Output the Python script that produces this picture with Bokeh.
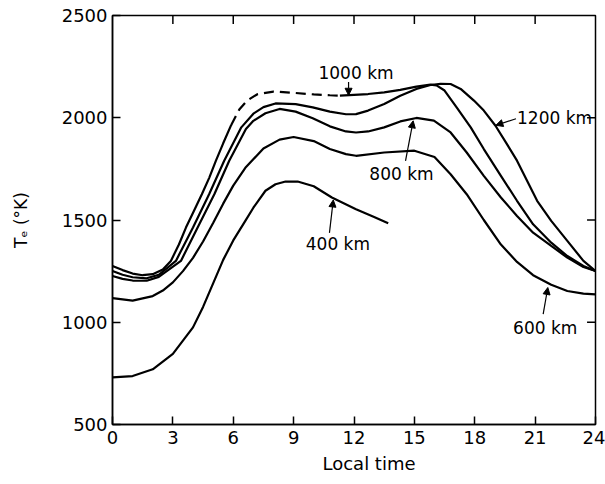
from bokeh.plotting import figure
from bokeh.models import Range1d, FixedTicker, Arrow, NormalHead, Label, Title, ColumnDataSource
from bokeh.embed import file_html
from bokeh.resources import INLINE

# ---------------- data ----------------
x_ticks = [0, 3, 6, 9, 12, 15, 18, 21, 24]
y_ticks = [500, 1000, 1500, 2000, 2500]

km400_hours = [0, 1, 2, 3, 4, 4.5, 5, 5.5, 6, 6.6, 7, 7.6, 8.1, 8.6, 9.2, 10, 10.9, 12.1, 13, 13.7]
km400_temp = [730, 737, 770, 845, 975, 1075, 1190, 1305, 1400, 1496, 1560, 1643, 1675, 1688, 1688, 1665, 1610, 1553, 1515, 1484]

km600_hours = [0, 1, 2, 2.5, 3, 3.5, 4, 4.5, 5, 5.5, 6, 6.6, 7.5, 8.3, 9, 10, 10.8, 11.6, 12.1, 13.5, 15, 16,
               16.8, 17.6, 18.45, 19.3, 20.1, 20.9, 21.8, 22.6, 23.4, 24]
km600_temp = [1118, 1106, 1128, 1155, 1195, 1250, 1315, 1395, 1485, 1580, 1668, 1755, 1850, 1893, 1906, 1886, 1847,
              1822, 1814, 1830, 1839, 1808, 1724, 1626, 1500, 1380, 1295, 1230, 1183, 1153, 1140, 1136]

km800_hours = [0, 0.5, 1, 1.7, 2.3, 3.4, 4.23, 5.06, 5.8, 6.63, 7.0, 7.6, 8.3, 9.1, 9.95, 10.8, 11.6, 12.1, 12.7,
               13.5, 14.3, 15.1, 15.97, 16.8, 17.6, 18.45, 19.3, 20.1, 20.9, 21.8, 22.6, 23.4, 24]
km800_temp = [1226, 1212, 1204, 1203, 1222, 1300, 1463, 1626, 1790, 1945, 1985, 2022, 2043, 2030, 1998, 1958, 1933,
              1928, 1933, 1953, 1982, 1999, 1986, 1928, 1830, 1716, 1610, 1520, 1438, 1373, 1316, 1270, 1251]

km1000_a_hours = [0, 0.5, 1, 1.5, 2, 2.5, 2.9, 3.3, 3.65, 4.05, 4.44, 4.8, 5.14, 5.5, 5.9]
km1000_a_temp = [1275, 1255, 1238, 1230, 1235, 1258, 1300, 1380, 1463, 1545, 1626, 1705, 1790, 1875, 1965]
km1000_dash_hours = [5.9, 6.3, 6.7, 7.2, 8.0, 9.0, 10.0, 10.8, 11.3]
km1000_dash_temp = [1965, 2040, 2085, 2115, 2128, 2122, 2114, 2110, 2108]
km1000_b_hours = [11.3, 12, 12.7, 13.5, 14.3, 15.1, 15.8, 16.1, 16.5, 17.1, 17.8, 18.45, 19.3, 20.1, 20.9, 21.8,
                  22.6, 23.4, 24]
km1000_b_temp = [2108, 2112, 2116, 2124, 2136, 2152, 2162, 2158, 2133, 2051, 1953, 1847, 1716, 1594, 1479, 1389,
                 1324, 1275, 1251]

km1200_hours = [0, 0.5, 1, 1.7, 2.3, 3.15, 4.0, 4.8, 5.55, 6.4, 7.0, 7.5, 8.1, 9.1, 9.95, 10.8, 11.6, 12.1, 12.7,
                13.5, 14.3, 15.1, 15.8, 16.3, 16.8, 17.3, 17.96, 18.45, 19.03, 19.6, 20.1, 20.6, 21.1, 21.8, 22.6,
                23.4, 24]
km1200_temp = [1251, 1232, 1220, 1215, 1232, 1300, 1463, 1626, 1790, 1953, 2020, 2052, 2070, 2067, 2051, 2030, 2017,
               2018, 2035, 2067, 2108, 2141, 2160, 2166, 2165, 2141, 2084, 2035, 1961, 1871, 1790, 1692, 1594, 1496,
               1398, 1300, 1251]

# annotation texts: (text, x, y, align)
labels = [
    ("1000 km", 12.1, 2221, "center"),
    ("1200 km", 20.1, 2000, "left"),
    ("800 km", 14.36, 1726, "center"),
    ("400 km", 11.2, 1383, "center"),
    ("600 km", 21.5, 971, "center"),
]
# arrows: (x_start, y_start, x_end, y_end)
arrows = [
    (11.73, 2175, 11.73, 2110),
    (20.05, 1995, 19.05, 1963),
    (14.56, 1789, 14.94, 1985),
    (10.78, 1437, 10.97, 1598),
    (21.4, 1040, 21.63, 1170),
]

FONT = "DejaVu Sans"
X0, X1, Y0, Y1 = 0, 24, 500, 2500
TICK_X = 0.42  # inner tick length on the right edge (hours, ~8 px)
TICK_Y = 42    # inner tick length on the top edge (K, ~8 px)

p = figure(width=605, height=484, x_range=Range1d(X0, X1), y_range=Range1d(Y0, Y1),
           output_backend="svg", toolbar_location=None,
           min_border_left=112, min_border_right=10, min_border_top=15, min_border_bottom=60)
p.grid.visible = False
p.outline_line_color = "black"
p.outline_line_width = 1.5
p.background_fill_color = "white"
p.border_fill_color = "white"


def style_axis(ax, ticks):
    ax.ticker = FixedTicker(ticks=ticks)
    ax.major_tick_in = 8
    ax.major_tick_out = 0
    ax.minor_tick_line_color = None
    ax.axis_line_width = 1.5
    ax.major_tick_line_width = 1.5
    ax.axis_line_color = "black"
    ax.major_tick_line_color = "black"
    ax.major_label_text_font = FONT
    ax.major_label_text_font_size = "18px"
    ax.major_label_text_color = "black"


style_axis(p.xaxis[0], x_ticks)
p.xaxis[0].major_label_standoff = 6
style_axis(p.yaxis[0], y_ticks)
p.yaxis[0].major_label_standoff = 5
p.yaxis[0].axis_label = "Tₑ (°K)"
p.yaxis[0].axis_label_text_font = FONT
p.yaxis[0].axis_label_text_font_size = "17px"
p.yaxis[0].axis_label_text_font_style = "normal"
p.yaxis[0].axis_label_text_color = "black"
p.yaxis[0].axis_label_standoff = 28

# inward ticks on the top and right edges of the frame
inner_x = x_ticks[1:-1]
inner_y = y_ticks[1:-1]
top_src = ColumnDataSource(dict(x0=inner_x, y0=[Y1] * len(inner_x),
                                x1=inner_x, y1=[Y1 - TICK_Y] * len(inner_x)))
right_src = ColumnDataSource(dict(x0=[X1] * len(inner_y), y0=inner_y,
                                  x1=[X1 - TICK_X] * len(inner_y), y1=inner_y))
p.segment(x0="x0", y0="y0", x1="x1", y1="y1", source=top_src, line_color="black", line_width=1.5)
p.segment(x0="x0", y0="y0", x1="x1", y1="y1", source=right_src, line_color="black", line_width=1.5)

t = Title(text="Local time", align="left", offset=210, text_font=FONT, text_font_size="18px",
          text_font_style="normal", text_color="black", standoff=8)
p.add_layout(t, "below")

lw = 2.2
p.line(km400_hours, km400_temp, line_color="black", line_width=lw)
p.line(km600_hours, km600_temp, line_color="black", line_width=lw)
p.line(km800_hours, km800_temp, line_color="black", line_width=lw)
p.line(km1000_a_hours, km1000_a_temp, line_color="black", line_width=lw)
p.line(km1000_dash_hours, km1000_dash_temp, line_color="black", line_width=lw, line_dash="10 6")
p.line(km1000_b_hours, km1000_b_temp, line_color="black", line_width=lw)
p.line(km1200_hours, km1200_temp, line_color="black", line_width=lw)

for text, x, y, align in labels:
    p.add_layout(Label(x=x, y=y, text=text, text_align=align, text_baseline="middle",
                       text_font=FONT, text_font_size="17px", text_color="black"))

for xs, ys, xe, ye in arrows:
    p.add_layout(Arrow(end=NormalHead(size=7, line_color="black", fill_color="black", line_width=1),
                       x_start=xs, y_start=ys, x_end=xe, y_end=ye, line_color="black", line_width=1.2))

open("out.html", "w").write(file_html(p, INLINE))
